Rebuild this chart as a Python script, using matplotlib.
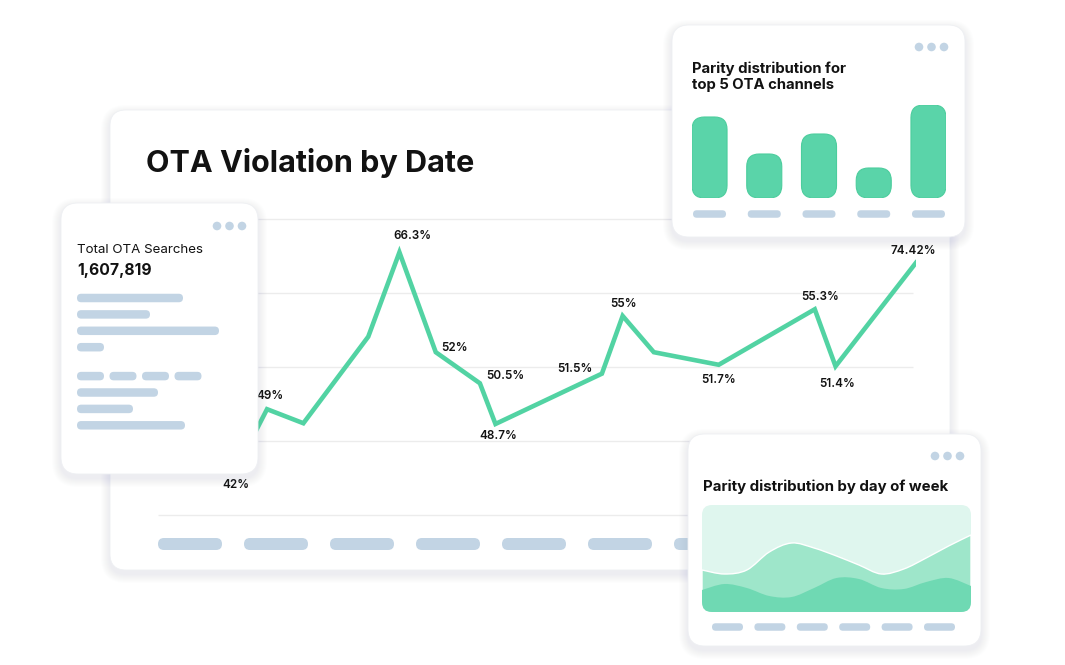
import numpy as np
import matplotlib
matplotlib.use("Agg")
import matplotlib.pyplot as plt
from matplotlib.patches import FancyBboxPatch, Circle, PathPatch
from matplotlib.path import Path

plt.rcParams['font.family'] = ['Inter', 'DejaVu Sans']

W, H = 1065, 665

# OTA violation by date (x = day, y = level on the chart scale)
days = [4.0, 5.2, 6.6, 9.1, 10.3, 11.7, 13.4, 14.0, 18.1, 18.9, 20.1, 22.6, 26.3, 27.1, 30.2]
violation = [6.1, 14.3, 12.4, 24.1, 35.5, 22.0, 17.8, 12.3, 19.1, 26.9, 22.0, 20.3, 27.8, 20.1, 34.1]
point_labels = ["42%", "49%", "", "", "66.3%", "52%", "50.5%", "48.7%",
                "51.5%", "55%", "", "51.7%", "55.3%", "51.4%", "74.42%"]
grid_levels = [0, 10, 20, 30, 40]

# parity for top 5 OTA channels
channels = [0, 1, 2, 3, 4]
channel_parity = [81, 44, 64, 30, 93]

# parity by day of week (stacked areas)
week_x = list(range(13))
parity_mid = [42, 38, 42, 60, 69, 64, 56, 47, 38, 43, 54, 66, 77]
parity_low = [22, 28, 24, 16, 15, 24, 34, 33, 24, 23, 30, 34, 26]

# placeholder text lines on the left card
skeleton_rows = [[106], [73], [142], [27], [27, 27, 27, 27], [81], [56], [108]]

GREEN = '#52d3a3'
BAR = '#5ad4a9'
PILL = '#c2d4e4'
INK = '#121212'

# offsets of the point labels, in pixels
label_offsets = [(0, -15), (3, 13), None, None, (13, 16), (19, 4), (25, 7), (3, -12),
                 (-27, 5), (1, 12), None, (0, -15), (5, 12), (2, -18), (-3, 12)]

fig = plt.figure(figsize=(W / 100, H / 100), dpi=100)
fig.patch.set_facecolor('white')


def px_axes(z):
    a = fig.add_axes([0, 0, 1, 1], zorder=z)
    a.set_xlim(0, W)
    a.set_ylim(H, 0)
    a.axis('off')
    a.patch.set_alpha(0)
    return a


def card(a, x, y, w, h, r=16):
    for i in range(1, 10):
        a.add_patch(FancyBboxPatch((x - i, y - i + 4), w + 2 * i, h + 2 * i,
                                   boxstyle=f"round,pad=0,rounding_size={r + i}",
                                   fc='#7d8aa0', ec='none', alpha=0.011))
    a.add_patch(FancyBboxPatch((x, y), w, h, boxstyle=f"round,pad=0,rounding_size={r}",
                               fc='white', ec='#eef0f3', lw=0.6))


def pill(a, x0, x1, yc, h, color=PILL):
    a.add_patch(FancyBboxPatch((x0, yc - h / 2), x1 - x0, h,
                               boxstyle=f"round,pad=0,rounding_size={h / 2}",
                               fc=color, ec='none'))


def dots(a, x, y):
    for k in range(3):
        a.add_patch(Circle((x + 12.5 * k, y), 4.3, fc=PILL, ec='none'))


def smooth_area(xs, ys, base=0.0):
    # closed bezier path through the points (catmull-rom handles)
    p = np.column_stack([xs, ys]).astype(float)
    n = len(p)
    verts = [(p[0, 0], base), tuple(p[0])]
    codes = [Path.MOVETO, Path.LINETO]
    for i in range(n - 1):
        a = p[i - 1] if i > 0 else p[i]
        b, c = p[i], p[i + 1]
        d = p[i + 2] if i + 2 < n else p[i + 1]
        verts += [tuple(b + (c - a) / 6), tuple(c - (d - b) / 6), tuple(c)]
        codes += [Path.CURVE4] * 3
    verts += [(p[-1, 0], base), (p[0, 0], base)]
    codes += [Path.LINETO, Path.CLOSEPOLY]
    return Path(verts, codes)


# ---- main card
bg = px_axes(0)
card(bg, 110, 110, 840, 460, r=16)
bg.text(146, 163, "OTA Violation by Date", fontsize=22, fontweight='bold',
        color=INK, va='center', ha='left')
for k in range(9):
    pill(bg, 158 + 86 * k, 222 + 86 * k, 544, 12)

# ---- line chart
ax = fig.add_axes([158 / W, 1 - 515 / H, (916 - 158) / W, (515 - 219) / H], zorder=1)
ax.patch.set_alpha(0)
ax.set_xlim(1, 30.2)
ax.set_ylim(grid_levels[0], grid_levels[-1])
ax.hlines(grid_levels, 1, 30.08, color='#ececec', lw=1, clip_on=False, zorder=0)
ax.plot(days, violation, color=GREEN, lw=3.3, solid_joinstyle='miter', zorder=2)
for d, v, lbl, off in zip(days, violation, point_labels, label_offsets):
    if lbl:
        ax.annotate(lbl, (d, v), xytext=off, textcoords='offset pixels',
                    ha='center', va='center', fontsize=8.4, fontweight='semibold',
                    color=INK, annotation_clip=False)
for s in ax.spines.values():
    s.set_visible(False)
ax.set_xticks([])
ax.set_yticks([])

# ---- overlay cards
ov = px_axes(2)

# left card
card(ov, 61, 203, 197, 271, r=17)
dots(ov, 217, 226)
ov.text(77, 250, "Total OTA Searches", fontsize=9.6, color=INK, va='center')
ov.text(77, 270.5, "1,607,819", fontsize=11.3, fontweight='bold', color=INK, va='center')
y = 298
for i, row in enumerate(skeleton_rows):
    if i == 4:
        y += 12.5
    x = 77
    for w in row:
        pill(ov, x, x + w, y, 8.5)
        x += w + 5.5
    y += 16.4

# top-right card
card(ov, 672, 25, 293, 212, r=17)
dots(ov, 919, 47)
ov.text(692, 76.5, "Parity distribution for\ntop 5 OTA channels", fontsize=10.7,
        fontweight='bold', color=INK, va='center', linespacing=1.22)

# bottom-right card
card(ov, 688, 434, 293, 212, r=17)
dots(ov, 935, 456)
ov.text(703, 487, "Parity distribution by day of week", fontsize=10.8,
        fontweight='bold', color=INK, va='center')

# ---- bars
bx = fig.add_axes([692 / W, 1 - 198 / H, (946 - 692) / W, 93 / H], zorder=3)
bx.axis('off')
bx.set_xlim(-0.32, 4.32)
bx.set_ylim(0, 93)
bar_w = 0.64
px_x = (946 - 692) / 4.64
px_y = 93 / 93
rad = 12.5
for c, v in zip(channels, channel_parity):
    bx.add_patch(FancyBboxPatch((c - bar_w / 2, 0), bar_w, v,
                                boxstyle=f"round,pad=0,rounding_size={rad / px_x}",
                                mutation_aspect=px_x / px_y,
                                fc=BAR, ec='#4ccd9d', lw=0.8))
    xc = ov.transData.inverted().transform(bx.transData.transform((c, 0)))[0]
    pill(ov, xc - 16.5, xc + 16.5, 214, 7.5)

# ---- stacked area
ar = fig.add_axes([702 / W, 1 - 612 / H, (971 - 702) / W, 107 / H], zorder=3)
ar.axis('off')
ar.set_xlim(week_x[0], week_x[-1])
ar.set_ylim(0, 107)
apx_x = (971 - 702) / (week_x[-1] - week_x[0])
frame = FancyBboxPatch((week_x[0], 0), week_x[-1] - week_x[0], 107,
                       boxstyle=f"round,pad=0,rounding_size={10 / apx_x}",
                       mutation_aspect=apx_x, fc='#dff6ee', ec='none')
ar.add_patch(frame)
mid = PathPatch(smooth_area(week_x, parity_mid), fc='#9ee6ca', ec='white', lw=1.0)
low = PathPatch(smooth_area(week_x, parity_low), fc='#6fd9b3', ec='none')
for art in (mid, low):
    ar.add_patch(art)
    art.set_clip_path(frame)
for k in range(6):
    pill(ov, 712 + 42.4 * k, 743 + 42.4 * k, 627, 7.5)

fig.savefig('out.png', dpi=100, facecolor='white')
